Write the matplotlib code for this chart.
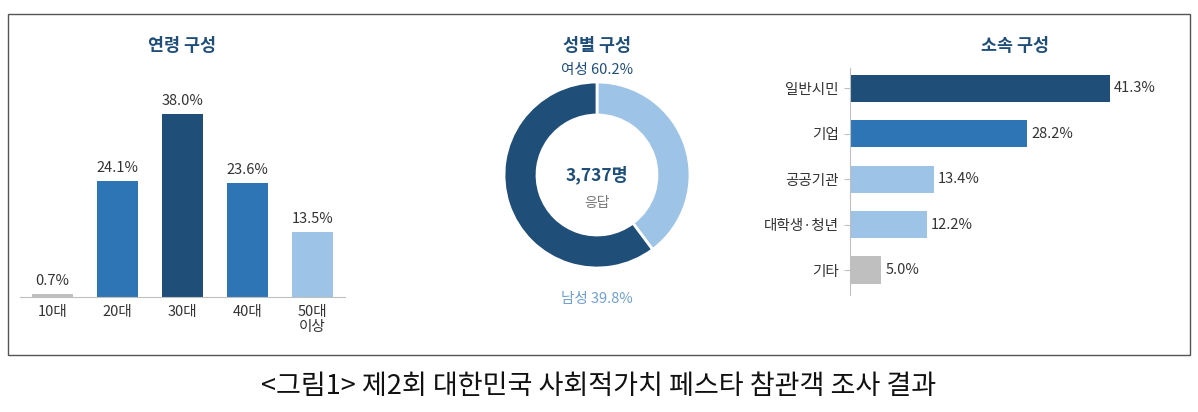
import matplotlib
matplotlib.use("Agg")
import matplotlib.pyplot as plt
from matplotlib.patches import Rectangle

plt.rcParams['font.family'] = ['Noto Sans CJK KR', 'DejaVu Sans']

age_cats = ['10대', '20대', '30대', '40대', '50대\n이상']
age_vals = [0.7, 24.1, 38.0, 23.6, 13.5]
age_cols = ['#bfbfbf', '#2e75b6', '#1f4e79', '#2e75b6', '#9dc3e6']

gender_vals = [39.8, 60.2]  # light (남성), dark (여성)
gender_cols = ['#9dc3e6', '#1f4e79']
total = '3,737명'

aff_cats = ['일반시민', '기업', '공공기관', '대학생·청년', '기타']
aff_vals = [41.3, 28.2, 13.4, 12.2, 5.0]
aff_cols = ['#1f4e79', '#2e75b6', '#9dc3e6', '#9dc3e6', '#bfbfbf']

W, H = 1198, 412
fig = plt.figure(figsize=(W/100, H/100), dpi=100)
fig.patches.append(Rectangle((8/W, 1-355/H), 1182/W, 341/H, transform=fig.transFigure,
                             fill=False, edgecolor='#555555', lw=1))
txt = '#333333'

# Age
ax = fig.add_axes([20/W, 1-297/H, 325/W, 217/H])
x = range(len(age_cats))
ax.bar(x, age_vals, color=age_cols, width=0.62)
for i, v in zip(x, age_vals):
    ax.text(i, v + 1.2, f'{v:.1f}%', ha='center', va='bottom', fontsize=10.5, color=txt)
ax.set_ylim(0, 45)
ax.set_xlim(-0.5, 4.5)
ax.set_xticks(list(x))
ax.set_xticklabels(age_cats, fontsize=10.5, color=txt, linespacing=1.1)
ax.tick_params(length=0, pad=6)
ax.set_yticks([])
for s in ['top', 'right', 'left']:
    ax.spines[s].set_visible(False)
ax.spines['bottom'].set_color('#bfbfbf')
fig.text(182/W, 1-46/H, '연령 구성', ha='center', va='center', fontsize=12.5, fontweight='bold', color='#1f4e79')

# Gender donut
ax2 = fig.add_axes([497/W, 1-275/H, 200/W, 200/H])
ax2.pie(gender_vals, colors=gender_cols, startangle=90, counterclock=False, radius=0.93,
        wedgeprops=dict(width=0.33, edgecolor='white', linewidth=2))
ax2.set_xlim(-1, 1); ax2.set_ylim(-1, 1); ax2.set_aspect('equal')
ax2.text(0, 0.0, total, ha='center', va='center', fontsize=12.5, fontweight='bold', color='#1f4e79')
ax2.text(0, -0.28, '응답', ha='center', va='center', fontsize=10, color='#777777')
fig.text(597/W, 1-46/H, '성별 구성', ha='center', va='center', fontsize=12.5, fontweight='bold', color='#1f4e79')
fig.text(597/W, 1-70/H, f'여성 {gender_vals[1]:.1f}%', ha='center', va='center', fontsize=10.5, color='#1f4e79')
fig.text(597/W, 1-299/H, f'남성 {gender_vals[0]:.1f}%', ha='center', va='center', fontsize=10.5, color='#6fa0d0')

# Affiliation
ax3 = fig.add_axes([850/W, 1-295/H, 283/W, 227/H])
y = range(len(aff_cats))
ax3.barh(y, aff_vals, color=aff_cols, height=0.6)
for i, v in zip(y, aff_vals):
    ax3.text(v + 0.6, i, f'{v:.1f}%', va='center', ha='left', fontsize=10.5, color=txt)
ax3.set_xlim(0, 45)
ax3.set_ylim(4.55, -0.45)
ax3.set_yticks(list(y))
ax3.set_yticklabels(aff_cats, fontsize=10.5, color=txt)
ax3.set_xticks([])
ax3.tick_params(axis='y', length=4, color='#bfbfbf', pad=4)
for s in ['top', 'right', 'bottom']:
    ax3.spines[s].set_visible(False)
ax3.spines['left'].set_color('#bfbfbf')
fig.text(1015/W, 1-46/H, '소속 구성', ha='center', va='center', fontsize=12.5, fontweight='bold', color='#1f4e79')

fig.text(599/W, 1-386/H, '<그림1> 제2회 대한민국 사회적가치 페스타 참관객 조사 결과',
         ha='center', va='center', fontsize=19.5, color='#111111')

fig.savefig('out.png', dpi=100)
